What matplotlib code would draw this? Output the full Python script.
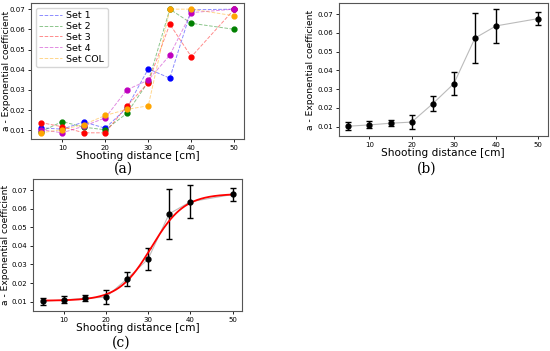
import numpy as np
import matplotlib
matplotlib.use("Agg")
import matplotlib.pyplot as plt

# shooting distances [cm]
dist = [5, 10, 15, 20, 25, 30, 35, 40, 50]

# panel (a): exponential coefficient per set
set1 = [0.0112, 0.0105, 0.0141, 0.0110, 0.0210, 0.0404, 0.0358, 0.0697, 0.0700]
set2 = [0.0092, 0.0143, 0.0115, 0.0102, 0.0183, 0.0340, 0.0700, 0.0630, 0.0600]
set3 = [0.0138, 0.0117, 0.0087, 0.0087, 0.0219, 0.0336, 0.0626, 0.0464, 0.0700]
set4 = [0.0103, 0.0087, 0.0120, 0.0161, 0.0300, 0.0348, 0.0472, 0.0683, 0.0700]
set_col = [0.0087, 0.0103, 0.0128, 0.0173, 0.0203, 0.0221, 0.0700, 0.0700, 0.0667]

set_names = ["Set 1", "Set 2", "Set 3", "Set 4", "Set COL"]
set_colors = ["blue", "green", "red", "m", "orange"]

# panels (b) and (c): mean and spread
mean_a = [0.0102, 0.0109, 0.0118, 0.0124, 0.0222, 0.0329, 0.0572, 0.0637, 0.0676]
err_a = [0.0020, 0.0019, 0.0017, 0.0037, 0.0040, 0.0060, 0.0135, 0.0090, 0.0035]

# logistic fit parameters (panel c)
fit_low = 0.0105
fit_amp = 0.0575
fit_k = 0.257
fit_x0 = 30.8

tick_fs = 5
label_fs = 7.6
ylab = "a - Exponential coefficient"
xlab = "Shooting distance [cm]"


def style(ax, ylab_x):
    ax.tick_params(labelsize=tick_fs, length=2.5, width=0.6, pad=1.5)
    for s in ax.spines.values():
        s.set_color("#555555")
        s.set_linewidth(0.8)
    ax.set_xticks([10, 20, 30, 40, 50])
    ax.set_yticks([0.01, 0.02, 0.03, 0.04, 0.05, 0.06, 0.07])
    ax.set_xlabel(xlab, fontsize=label_fs, labelpad=0.5)
    ax.set_ylabel(ylab, fontsize=6.6)
    ax.yaxis.set_label_coords(ylab_x, 0.5)


def mean_plot(ax):
    ax.plot(dist, mean_a, color="#bbbbbb", lw=0.8)
    ax.errorbar(dist, mean_a, yerr=err_a, fmt="o", color="black", ms=3.5,
                capsize=2.5, elinewidth=1.0, capthick=1.0)


fig = plt.figure(figsize=(5.5, 3.51), dpi=100)

# (a)
ax1 = fig.add_axes([0.0564, 0.604, 0.3873, 0.3875])
for vals, name, c in zip([set1, set2, set3, set4, set_col], set_names, set_colors):
    ax1.plot(dist, vals, "--", color=c, alpha=0.45, lw=0.7, label=name)
    ax1.plot(dist, vals, "o", color=c, ms=3.5)
style(ax1, -0.096)
ax1.legend(loc="upper left", fontsize=6.8, labelspacing=0.2, handlelength=2.4,
           borderpad=0.35, handletextpad=0.5)

# (b)
ax2 = fig.add_axes([0.616, 0.6125, 0.38, 0.379])
mean_plot(ax2)
style(ax2, -0.115)

# (c)
ax3 = fig.add_axes([0.06, 0.114, 0.38, 0.376])
mean_plot(ax3)
xs = np.linspace(5, 50, 200)
ax3.plot(xs, fit_low + fit_amp / (1 + np.exp(-fit_k * (xs - fit_x0))), color="red", lw=1.3)
style(ax3, -0.112)

fig.text(0.224, 0.519, "(a)", fontsize=10, family="DejaVu Serif", ha="center", va="center")
fig.text(0.776, 0.519, "(b)", fontsize=10, family="DejaVu Serif", ha="center", va="center")
fig.text(0.22, 0.023, "(c)", fontsize=10, family="DejaVu Serif", ha="center", va="center")

fig.savefig("out.png", dpi=100)
